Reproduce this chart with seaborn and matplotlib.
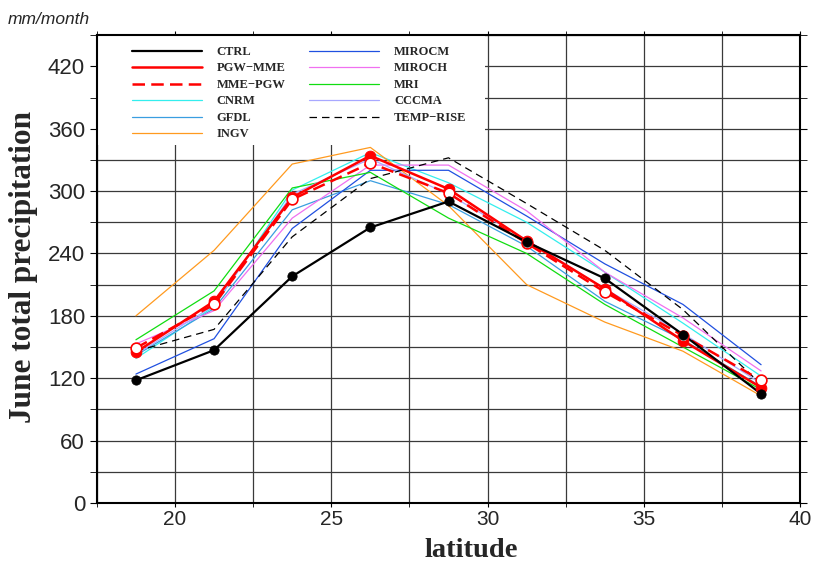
import matplotlib
matplotlib.use("Agg")
from matplotlib import pyplot as plt
from matplotlib.patches import Rectangle
from matplotlib.ticker import MultipleLocator
import seaborn as sns

# June total precipitation per latitude band
lat = [18.75, 21.25, 23.75, 26.25, 28.75, 31.25, 33.75, 36.25, 38.75]
ctrl = [118, 147, 218, 265, 290, 251, 216, 162, 105]
pgw_mme = [145, 194, 294, 334, 302, 252, 206, 156, 111]
mme_pgw = [149, 191, 292, 327, 298, 250, 203, 161, 118]
cnrm = [139, 189, 301, 337, 308, 270, 222, 173, 122]
gfdl = [142, 187, 282, 310, 287, 247, 194, 157, 112]
ingv = [180, 243, 326, 342, 286, 210, 174, 146, 103]
mirocm = [124, 158, 264, 320, 320, 276, 230, 191, 133]
miroch = [153, 185, 274, 325, 325, 281, 222, 178, 127]
mri = [157, 204, 303, 318, 274, 240, 191, 150, 109]
cccma = [143, 190, 297, 331, 297, 253, 206, 163, 115]
temp_rise = [146, 167, 256, 312, 332, 288, 243, 186, 114]

sns.set_style("ticks")
plt.rcParams["font.family"] = ["Liberation Sans", "DejaVu Sans"]

fig = plt.figure(figsize=(8.14, 5.63), dpi=100)
ax = fig.add_axes([0.119, 0.1066, 0.864, 0.831])

# thin model lines first, the key runs on top
models = [
    ("CNRM", cnrm, "#33eeee"),
    ("GFDL", gfdl, "#3a9ee0"),
    ("INGV", ingv, "#ff9a1f"),
    ("MIROCM", mirocm, "#2050e0"),
    ("MIROCH", miroch, "#f070f0"),
    ("MRI", mri, "#11dd11"),
    ("CCCMA", cccma, "#a8a8ff"),
]
for name, vals, col in models:
    sns.lineplot(x=lat, y=vals, ax=ax, color=col, lw=0.9, label=name, zorder=2)

sns.lineplot(x=lat, y=temp_rise, ax=ax, color="black", lw=0.9,
             linestyle=(0, (6, 4)), label="TEMP\u2212RISE", zorder=2.1)
sns.lineplot(x=lat, y=mme_pgw, ax=ax, color="red", lw=1.8,
             linestyle=(0, (5, 2.5)), label="MME\u2212PGW", zorder=2.2)
sns.lineplot(x=lat, y=pgw_mme, ax=ax, color="red", lw=1.8,
             label="PGW\u2212MME", zorder=2.3)
sns.lineplot(x=lat, y=ctrl, ax=ax, color="black", lw=1.6,
             label="CTRL", zorder=2.4)

# markers drawn separately so the key shows plain lines
sns.scatterplot(x=lat, y=pgw_mme, ax=ax, color="red", s=60,
                edgecolor="red", zorder=3, legend=False)
sns.scatterplot(x=lat, y=mme_pgw, ax=ax, facecolor="white", s=60,
                edgecolor="red", linewidth=1.2, zorder=3.1, legend=False)
sns.scatterplot(x=lat, y=ctrl, ax=ax, color="black", s=45,
                edgecolor="black", zorder=3.2, legend=False)

ax.set_xlim(17.5, 40)
ax.set_ylim(0, 450)
ax.xaxis.set_major_locator(MultipleLocator(5))
ax.xaxis.set_minor_locator(MultipleLocator(2.5))
ax.yaxis.set_major_locator(MultipleLocator(60))
ax.yaxis.set_minor_locator(MultipleLocator(30))
ax.grid(True, which="both", color="#3a3a3a", lw=0.9)
ax.tick_params(which="both", direction="out", top=True, right=True,
               labelsize=16, color="black", length=5)
ax.tick_params(axis="x", which="both", labelsize=15, length=3, pad=2)
for sp in ax.spines.values():
    sp.set_visible(True)
    sp.set_linewidth(1.5)
    sp.set_color("black")

# white box behind the key hides the grid there
ax.add_patch(Rectangle((0, 0.765), 0.552, 0.235, transform=ax.transAxes,
                       facecolor="white", edgecolor="none", zorder=1.8))

order = ["CTRL", "PGW\u2212MME", "MME\u2212PGW", "CNRM", "GFDL", "INGV",
         "MIROCM", "MIROCH", "MRI", "CCCMA", "TEMP\u2212RISE"]
handles, labels = ax.get_legend_handles_labels()
lookup = dict(zip(labels, handles))
leg = ax.legend([lookup[k] for k in order], order, ncol=2, loc="upper left",
                bbox_to_anchor=(0.0494, 0.977), frameon=False, borderpad=0,
                borderaxespad=0, handlelength=5.6, handletextpad=1.2,
                columnspacing=1.9, labelspacing=0.36,
                prop={"family": "Liberation Serif", "weight": "bold",
                      "size": 9})
leg.set_zorder(5)

ax.set_xlabel("latitude", family="Liberation Serif", weight="bold",
              fontsize=20.5, va="baseline")
ax.xaxis.set_label_coords(0.5327, -0.1154)
ax.set_ylabel("June total precipitation", family="Liberation Serif",
              weight="bold", fontsize=22.5)
ax.yaxis.set_label_coords(-0.084, 0.504)

fig.text(8 / 814, 1 - 24 / 563, "mm/month", style="italic", fontsize=12.5)

fig.savefig("out.png", dpi=100)
